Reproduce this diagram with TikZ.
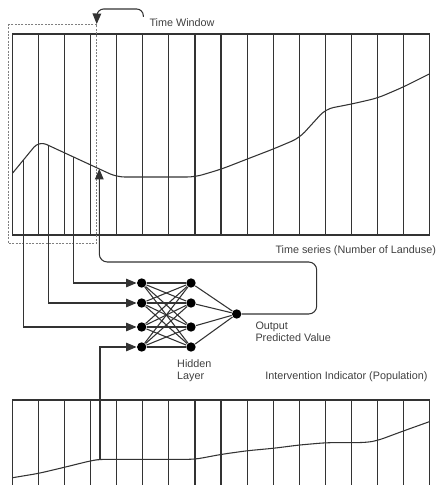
\documentclass[tikz,border=0pt]{standalone}
\usepackage{fontspec}
\setmainfont{Liberation Sans}
\usetikzlibrary{arrows}

\begin{document}
\begin{tikzpicture}[x=0.75pt, y=-0.75pt, >=triangle 45, line width=0.8pt, color=black!80,
  neuron/.style={circle, fill=black, inner sep=0pt, minimum size=7pt},
  caption/.style={text=black!75, inner sep=0pt, font=\fontsize{8.1}{9}\selectfont},
  window/.style={color=black!50, line width=0.7pt, dash pattern=on 1.5pt off 1pt}]
  \useasboundingbox (0,0) rectangle (437,485);

  % time series
  \draw (12.7,34) rectangle (429.3,235);
  \foreach \k in {1,...,15} \draw ({12.7+26.04*\k},34) -- ({12.7+26.04*\k},235);
  \draw[rounded corners=6] (12.7,173) -- (39,141) -- (116.7,177) -- (195,177) -- (221.7,169) -- (247.3,159)
    -- (273.3,149) -- (299.3,138) -- (325.7,109) -- (351.7,104) -- (377.7,98) -- (403.3,87) -- (429.3,74);
  \node[caption, anchor=east] (tslabel) at (436.5,251) {Time series (Number of Landuse)};

  % time window
  \draw[window] (8,24) rectangle (96.7,243);
  \coordinate (wincorner) at (96.7,24);
  \node[caption, anchor=west] (twlabel) at (149,23) {Time Window};
  \coordinate (twstart) at (143.3,17);
  \draw[->, rounded corners=5] (twstart) -- (143.3,9) -- (97,9) -- (wincorner);

  % taps on the curves
  \coordinate (t1) at (23.3,160);
  \coordinate (t2) at (48.3,145.3);
  \coordinate (t3) at (73.3,156.9);
  \coordinate (t4) at (99.3,168.9);
  \coordinate (b1) at (100,459.3);

  % network
  \foreach \i/\y in {1/283,2/303,3/327,4/347} {
    \node[neuron] (in\i) at (141.7,\y) {};
    \node[neuron] (hid\i) at (191,\y) {};
  }
  \node[neuron] (out) at (236.7,314) {};
  \foreach \i in {1,...,4} {
    \foreach \j in {1,...,4} \draw (in\i) -- (hid\j);
    \draw (hid\i) -- (out);
  }

  \draw[->] (t3) |- (in1);
  \draw[->] (t2) |- (in2);
  \draw[->] (t1) |- (in3);
  \draw[->] (b1) |- (in4);
  \draw[->, rounded corners=6] (out) -- (316.7,314) -- (316.7,262) -- (99.3,262) -- (t4);

  \node[caption, anchor=west, align=left] (outlabel) at (255,332) {Output\\Predicted Value};
  \node[caption, anchor=west, align=left] (hidlabel) at (176.7,371) {Hidden\\Layer};
  \node[caption, anchor=east] (ivlabel) at (428,377) {Intervention Indicator (Population)};

  % intervention indicator
  \draw (12.7,485) -- (12.7,400) -- (429.3,400) -- (429.3,485);
  \foreach \k in {1,...,15} \draw ({12.7+26.04*\k},400) -- ({12.7+26.04*\k},485);
  \draw[rounded corners=5] (12.7,477.7) -- (39,473.3) -- (64.3,467.3) -- (91,460.7) -- (100,459.3) -- (195,459.3)
    -- (221.7,454.3) -- (247.3,450.7) -- (273.3,448.3) -- (299.3,445) -- (325.7,442.7) -- (366.7,442.5)
    -- (377.7,440.5) -- (403.3,431) -- (429.3,421.7);
\end{tikzpicture}
\end{document}
